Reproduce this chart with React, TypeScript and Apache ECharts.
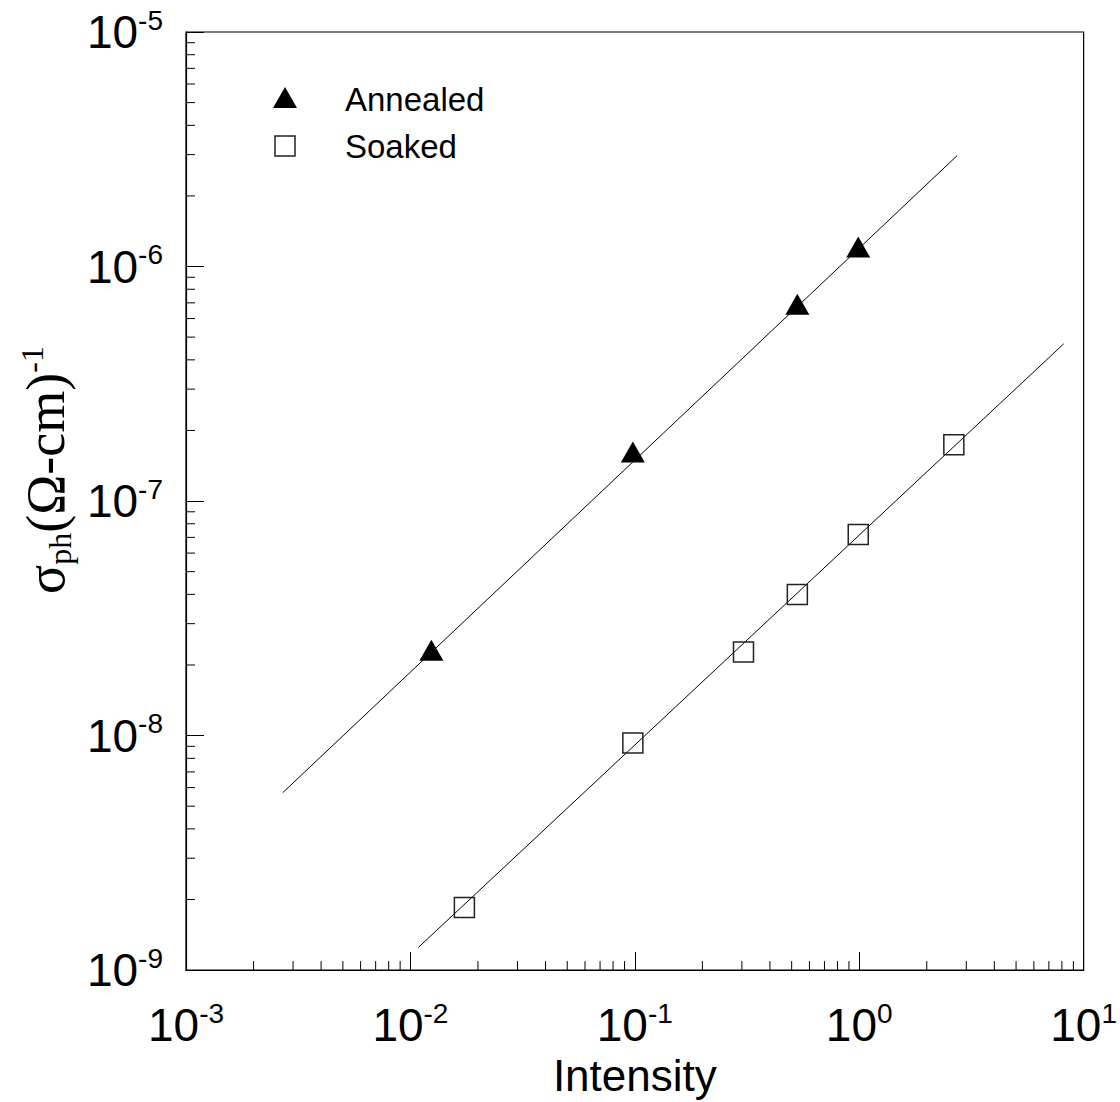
import React, { useEffect, useRef } from "react";
import * as echarts from "echarts";

const xMin = 1e-3;
const xMax = 10;
const yMin = 1e-9;
const yMax = 1e-5;

const annealedX = [0.0124, 0.098, 0.53, 0.99];
const annealedY = [2.31e-8, 1.62e-7, 6.9e-7, 1.21e-6];

const soakedX = [0.0174, 0.098, 0.305, 0.53, 0.99, 2.64];
const soakedY = [1.85e-9, 9.3e-9, 2.27e-8, 4.0e-8, 7.2e-8, 1.74e-7];

const annealedFitX = [0.0027, 2.73];
const annealedFitY = [5.71e-9, 2.97e-6];

const soakedFitX = [0.01086, 8.15];
const soakedFitY = [1.25e-9, 4.68e-7];

const xDecades = [-3, -2, -1, 0];
const yDecades = [-9, -8, -7, -6];
const minorMultipliers = [2, 3, 4, 5, 6, 7, 8, 9];

const legendNames = ["Annealed", "Soaked"];
const xName = "Intensity";

const SANS = "'Liberation Sans', Arial, Helvetica, sans-serif";
const SERIF = "'Liberation Serif', 'Times New Roman', serif";

const zip = (a: number[], b: number[]) => a.map((v, i) => [v, b[i]]);

export default function App() {
  const ref = useRef<HTMLDivElement>(null);

  useEffect(() => {
    if (!ref.current) return;
    const chart = echarts.init(ref.current, null, { renderer: "svg" });

    const xMinor: number[][] = [];
    xDecades.forEach((d) =>
      minorMultipliers.forEach((m) => xMinor.push([m * Math.pow(10, d), yMin]))
    );
    const yMinor: number[][] = [];
    yDecades.forEach((d) =>
      minorMultipliers.forEach((m) => yMinor.push([xMin, m * Math.pow(10, d)]))
    );

    const labelFormatter = (v: number) => {
      const e = Math.round(Math.log10(v));
      return `{b|10}{s|${e}}`;
    };
    const labelRich = {
      b: { fontSize: 46, fontFamily: SANS, color: "#000", lineHeight: 52 },
      s: { fontSize: 28, fontFamily: SANS, color: "#000", lineHeight: 28, verticalAlign: "top" },
    };

    const option: any = {
      animation: false,
      backgroundColor: "#fff",
      grid: {
        left: 186,
        right: 34,
        top: 32,
        bottom: 129,
        show: true,
        borderColor: "#000",
        borderWidth: 1.2,
        containLabel: false,
      },
      xAxis: {
        type: "log",
        logBase: 10,
        min: xMin,
        max: xMax,
        name: xName,
        nameLocation: "middle",
        nameGap: 72,
        nameTextStyle: { fontSize: 44, fontFamily: SANS, color: "#000" },
        axisLine: { show: true, lineStyle: { color: "#000", width: 1.2 } },
        axisTick: { show: true, inside: true, length: 18, lineStyle: { color: "#000", width: 1 } },
        axisLabel: {
          show: true,
          interval: 0,
          margin: 29,
          formatter: labelFormatter,
          rich: labelRich,
        },
        splitLine: { show: false },
        minorTick: { show: false },
      },
      yAxis: {
        type: "log",
        logBase: 10,
        min: yMin,
        max: yMax,
        axisLine: { show: true, lineStyle: { color: "#000", width: 1.2 } },
        axisTick: { show: true, inside: true, length: 18, lineStyle: { color: "#000", width: 1 } },
        axisLabel: {
          show: true,
          interval: 0,
          margin: 23,
          formatter: labelFormatter,
          rich: labelRich,
        },
        splitLine: { show: false },
        minorTick: { show: false },
      },
      series: [
        {
          type: "custom",
          name: "xMinorTicks",
          data: xMinor,
          encode: { x: 0, y: 1 },
          clip: false,
          silent: true,
          renderItem: (params: any, api: any) => {
            const p = api.coord([api.value(0), api.value(1)]);
            return {
              type: "line",
              shape: { x1: p[0], y1: p[1], x2: p[0], y2: p[1] - 9 },
              style: { stroke: "#000", lineWidth: 1 },
            };
          },
        },
        {
          type: "custom",
          name: "yMinorTicks",
          data: yMinor,
          encode: { x: 0, y: 1 },
          clip: false,
          silent: true,
          renderItem: (params: any, api: any) => {
            const p = api.coord([api.value(0), api.value(1)]);
            return {
              type: "line",
              shape: { x1: p[0], y1: p[1], x2: p[0] + 9, y2: p[1] },
              style: { stroke: "#000", lineWidth: 1 },
            };
          },
        },
        {
          type: "line",
          name: "Annealed fit",
          data: zip(annealedFitX, annealedFitY),
          showSymbol: false,
          symbol: "none",
          lineStyle: { color: "#000", width: 1 },
          z: 2,
        },
        {
          type: "line",
          name: "Soaked fit",
          data: zip(soakedFitX, soakedFitY),
          showSymbol: false,
          symbol: "none",
          lineStyle: { color: "#000", width: 1 },
          z: 2,
        },
        {
          type: "scatter",
          name: legendNames[0],
          data: zip(annealedX, annealedY),
          symbol: "triangle",
          symbolSize: [24, 21],
          itemStyle: { color: "#000", opacity: 1 },
          z: 3,
        },
        {
          type: "scatter",
          name: legendNames[1],
          data: zip(soakedX, soakedY),
          symbol: "rect",
          symbolSize: 20,
          itemStyle: { color: "rgba(0,0,0,0)", borderColor: "#222", borderWidth: 1.5, opacity: 1 },
          z: 3,
        },
      ],
      graphic: [
        {
          type: "polygon",
          shape: { points: [[285, 87], [297, 108], [273, 108]] },
          style: { fill: "#000" },
        },
        {
          type: "text",
          x: 345,
          y: 99,
          style: {
            text: legendNames[0],
            fontSize: 33,
            fontFamily: SANS,
            fill: "#000",
            verticalAlign: "middle",
            align: "left",
          },
        },
        {
          type: "rect",
          shape: { x: 275, y: 136, width: 20, height: 20 },
          style: { fill: "rgba(0,0,0,0)", stroke: "#222", lineWidth: 1.5 },
        },
        {
          type: "text",
          x: 345,
          y: 146,
          style: {
            text: legendNames[1],
            fontSize: 33,
            fontFamily: SANS,
            fill: "#000",
            verticalAlign: "middle",
            align: "left",
          },
        },
        {
          type: "text",
          x: 46,
          y: 470,
          rotation: Math.PI / 2,
          style: {
            text: "{a|σ}{sub|ph}{a|(Ω-cm)}{sup|-1}",
            align: "center",
            verticalAlign: "middle",
            fill: "#000",
            rich: {
              a: { fontSize: 54, fontFamily: SERIF, fill: "#000", lineHeight: 60 },
              sub: { fontSize: 32, fontFamily: SERIF, fill: "#000", lineHeight: 32, verticalAlign: "bottom" },
              sup: { fontSize: 32, fontFamily: SERIF, fill: "#000", lineHeight: 32, verticalAlign: "top" },
            },
          },
        },
      ],
    };

    chart.setOption(option);
    return () => chart.dispose();
  }, []);

  return <div ref={ref} style={{ width: 1120, height: 1102, position: "absolute", left: 0, top: 0 }} />;
}
